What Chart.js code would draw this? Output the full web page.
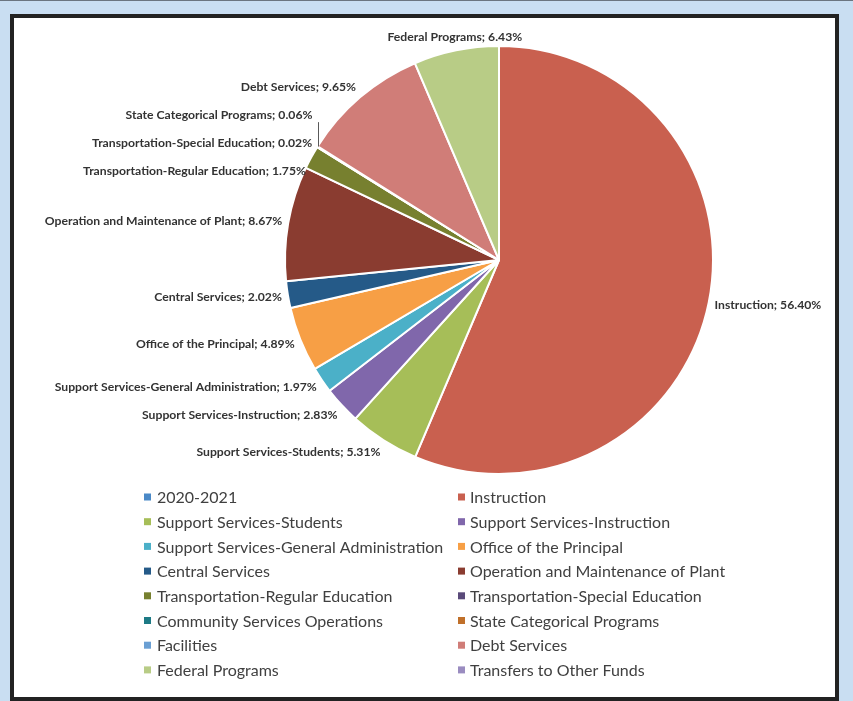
<!DOCTYPE html>
<html>
<head>
<meta charset="utf-8">
<script src="https://cdn.jsdelivr.net/npm/chart.js@4.4.1/dist/chart.umd.min.js"></script>
<style>
  html, body { margin: 0; padding: 0; }
  body { width: 853px; height: 701px; background: #C9DEF2; position: relative; overflow: hidden; }
  #topline { position: absolute; left: 0; top: 0; width: 853px; height: 1px; background: #6b7580; }
  #box { position: absolute; left: 10px; top: 14px; width: 821px; height: 679px; background: #ffffff; border: 4px solid #222222; }
  #c { position: absolute; left: 0; top: 0; }
</style>
</head>
<body>
<div id="topline"></div>
<div id="box"></div>
<canvas id="c" width="853" height="701"></canvas>
<script>
const categories = [
  "2020-2021",
  "Instruction",
  "Support Services-Students",
  "Support Services-Instruction",
  "Support Services-General Administration",
  "Office of the Principal",
  "Central Services",
  "Operation and Maintenance of Plant",
  "Transportation-Regular Education",
  "Transportation-Special Education",
  "Community Services Operations",
  "State Categorical Programs",
  "Facilities",
  "Debt Services",
  "Federal Programs",
  "Transfers to Other Funds"
];
const shares2020_2021 = [0, 56.40, 5.31, 2.83, 1.97, 4.89, 2.02, 8.67, 1.75, 0.02, 0, 0.06, 0, 9.65, 6.43, 0];
const sliceColors = [
  "#4A89C7", "#C9604F", "#A6BE58", "#8067AB", "#4BB0C8", "#F79F45",
  "#255A88", "#8A3C30", "#77802F", "#5A4A7A", "#1D7A85", "#C0702A",
  "#6A9FD3", "#D07D78", "#B8CC86", "#9A8CC0"
];

const outsideLabels = {
  id: 'outsideLabels',
  afterDatasetsDraw(chart) {
    const ctx = chart.ctx;
    const meta = chart.getDatasetMeta(0);
    const data = chart.data.datasets[0].data;
    const total = data.reduce((a, b) => a + b, 0);
    ctx.save();
    ctx.font = 'bold 12.2px Lato';
    const items = [];
    meta.data.forEach((arc, i) => {
      const v = data[i];
      if (!v) return;
      const p = arc.getProps(['x', 'y', 'startAngle', 'endAngle', 'outerRadius'], true);
      const mid = (p.startAngle + p.endAngle) / 2;
      const dx = Math.cos(mid), dy = Math.sin(mid);
      const R = p.outerRadius + 6;
      const align = Math.abs(dx) < 0.3 ? 'center' : (dx > 0 ? 'left' : 'right');
      const ly = p.y + R * dy + dy * 8;
      items.push({
        text: chart.data.labels[i] + '; ' + (v / total * 100).toFixed(2) + '%',
        lx: p.x + R * dx, ly: ly, ly0: ly, align: align, side: dx < 0 ? -1 : 1,
        ax: p.x + p.outerRadius * dx, ay: p.y + p.outerRadius * dy, mid: mid
      });
    });
    const gap = 28;
    [-1, 1].forEach(side => {
      const s = items.filter(it => it.side === side).sort((a, b) => a.ly - b.ly);
      for (let iter = 0; iter < 200; iter++) {
        let moved = false;
        for (let k = 0; k < s.length - 1; k++) {
          const d = s[k + 1].ly - s[k].ly;
          if (d < gap - 0.01) {
            const push = (gap - d) / 2;
            s[k].ly -= push; s[k + 1].ly += push; moved = true;
          }
        }
        if (!moved) break;
      }
    });
    items.forEach(it => {
      if (Math.abs(it.ly - it.ly0) > 22) {
        ctx.strokeStyle = '#595959';
        ctx.lineWidth = 1;
        ctx.beginPath();
        const ex = Math.round(it.ax) + 0.5;
        ctx.moveTo(ex, it.ay);
        ctx.lineTo(ex, it.ly + (it.ly < it.ay ? 7 : -7));
        ctx.stroke();
      }
      ctx.fillStyle = '#333333';
      ctx.textAlign = it.align;
      ctx.textBaseline = 'middle';
      ctx.fillText(it.text, it.lx, it.ly);
    });
    ctx.restore();
  }
};

const gridLegend = {
  id: 'gridLegend',
  afterDraw(chart) {
    const ctx = chart.ctx;
    const items = chart.options.plugins.legend.labels.generateLabels(chart);
    ctx.save();
    ctx.font = '16px Lato';
    ctx.textBaseline = 'middle';
    ctx.textAlign = 'left';
    const colBox = [144, 458], colText = [157, 470];
    items.forEach((it, i) => {
      const col = i % 2, row = Math.floor(i / 2);
      const y = 497 + row * 24.7;
      ctx.fillStyle = it.fillStyle;
      ctx.fillRect(colBox[col], y - 3.5, 7, 7);
      ctx.fillStyle = '#404040';
      ctx.fillText(it.text, colText[col], y + 1);
    });
    ctx.restore();
  }
};

new Chart(document.getElementById('c'), {
  type: 'pie',
  data: {
    labels: categories,
    datasets: [{
      label: '2020-2021',
      data: shares2020_2021,
      backgroundColor: sliceColors,
      borderColor: '#ffffff',
      borderWidth: 2
    }]
  },
  options: {
    responsive: false,
    animation: false,
    layout: { padding: { left: 284, right: 139, top: 45, bottom: 226 } },
    plugins: {
      legend: { display: false },
      tooltip: { enabled: false }
    }
  },
  plugins: [outsideLabels, gridLegend]
});
</script>
</body>
</html>
